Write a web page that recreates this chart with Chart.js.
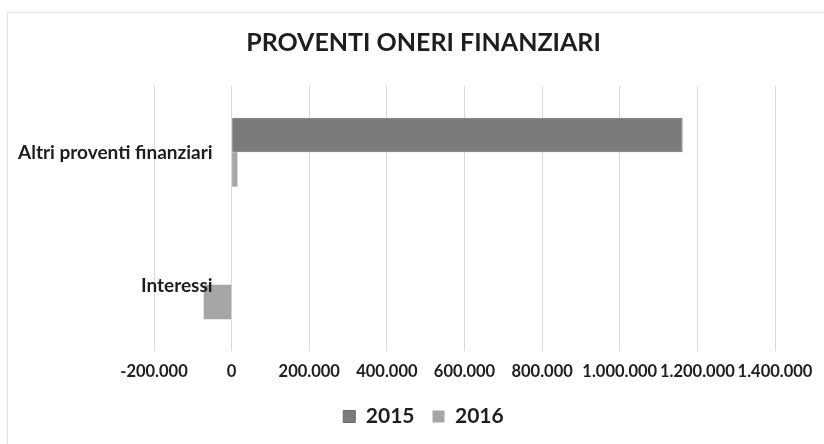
<!DOCTYPE html>
<html>
<head>
<meta charset="utf-8">
<script src="https://cdn.jsdelivr.net/npm/chart.js@4/dist/chart.umd.min.js"></script>
<style>
  html, body { margin: 0; padding: 0; background: #fff; }
  #wrap { position: relative; width: 824px; height: 444px; }
  #frame { position: absolute; left: 7px; top: 12px; width: 830px; height: 440px; border-left: 1px solid #e2e2e2; border-top: 1px solid #e2e2e2; box-sizing: border-box; pointer-events: none; }
  canvas { position: absolute; left: 0; top: 0; }
</style>
</head>
<body>
<div id="wrap">
  <canvas id="c" width="824" height="444"></canvas>
  <div id="frame"></div>
</div>
<script>
const chartTitle = "PROVENTI ONERI FINANZIARI";
const categories = ["Altri proventi finanziari", "Interessi"];
const seriesNames = ["2015", "2016"];
const values2015 = [1162000, 0];
const values2016 = [15000, -72000];
const xMin = -200000;
const xMax = 1400000;
const xStep = 200000;

function fmt(v) {
  const s = String(Math.abs(Math.round(v))).replace(/\B(?=(\d{3})+(?!\d))/g, '.');
  return (v < 0 ? '-' : '') + s;
}

const FONT = 'Lato, "Open Sans", sans-serif';

// Category labels drawn next to the zero line (Excel style), positioned from the scales.
const categoryLabelsAtZero = {
  id: 'categoryLabelsAtZero',
  afterDatasetsDraw(chart) {
    const ctx = chart.ctx;
    const xs = chart.scales.x, ys = chart.scales.y;
    const x0 = xs.getPixelForValue(0) - 19;
    ctx.save();
    ctx.font = 'bold 19px ' + FONT;
    ctx.fillStyle = '#1e1e1e';
    ctx.textAlign = 'right';
    ctx.textBaseline = 'alphabetic';
    chart.data.labels.forEach((lab, i) => {
      ctx.fillText(lab, x0, ys.getPixelForValue(i) + 7);
    });
    ctx.restore();
  }
};

new Chart(document.getElementById('c'), {
  type: 'bar',
  data: {
    labels: categories,
    datasets: [
      { label: seriesNames[0], data: values2015, backgroundColor: '#7b7b7b', borderColor: '#6a6a6a', borderWidth: 1 },
      { label: seriesNames[1], data: values2016, backgroundColor: '#a6a6a6', borderColor: '#999999', borderWidth: 0 }
    ]
  },
  plugins: [categoryLabelsAtZero],
  options: {
    indexAxis: 'y',
    responsive: false,
    animation: false,
    devicePixelRatio: 1,
    layout: { padding: { left: 72, right: 49, top: 10, bottom: 7 } },
    datasets: { bar: { barPercentage: 1, categoryPercentage: 0.52 } },
    scales: {
      x: {
        min: xMin, max: xMax,
        ticks: { stepSize: xStep, padding: 11, color: '#1e1e1e', font: { family: FONT, size: 16.5, weight: 'bold' }, callback: v => fmt(v), maxRotation: 0, autoSkip: false },
        grid: { color: '#d9d9d9', drawTicks: false },
        border: { display: false },
        afterFit(s) { s.height = 37; }
      },
      y: {
        position: 'left',
        ticks: { display: false },
        grid: { display: false },
        border: { display: false },
        afterFit(s) { s.width = 82; }
      }
    },
    plugins: {
      title: {
        display: true, text: chartTitle, color: '#1e1e1e',
        font: { family: FONT, size: 25, weight: 'bold' },
        padding: { top: 18, bottom: 28 }
      },
      legend: {
        position: 'bottom',
        labels: { boxWidth: 12, boxHeight: 12, padding: 18, color: '#1e1e1e', font: { family: FONT, size: 21, weight: 'bold' } }
      },
      tooltip: { enabled: false }
    }
  }
});
</script>
</body>
</html>
